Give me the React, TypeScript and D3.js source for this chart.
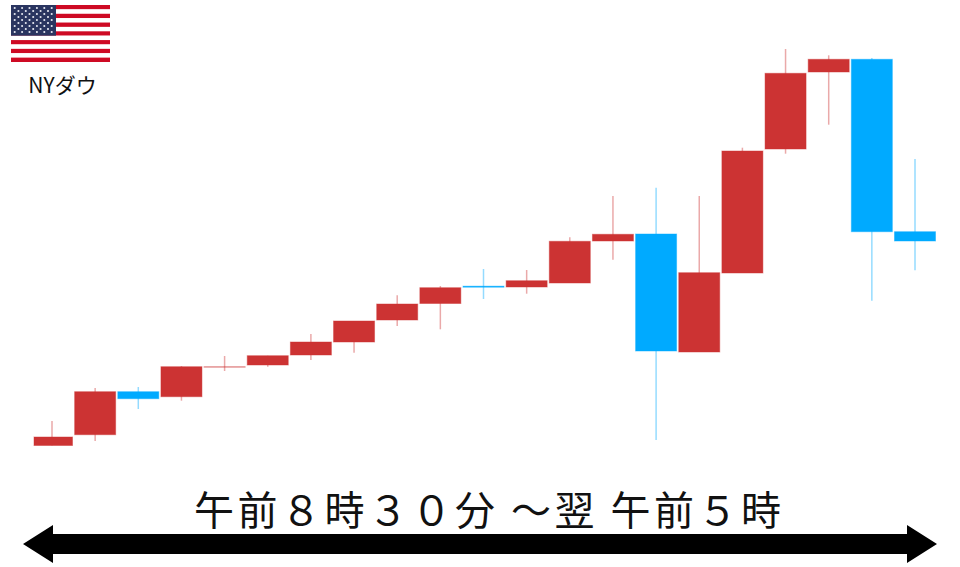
import React from "react";
import * as d3 from "d3";

const W = 960, H = 567;
const opens = [121.5, 132.3, 175.3, 170.3, 200, 202, 212, 225, 247, 263.5, 280.8, 280, 284, 326, 333, 215, 294, 418, 495, 507.7, 335.3];
const closes = [130, 175.3, 168.3, 200.3, 200.3, 211.3, 225, 246, 263, 279.3, 279.8, 286.3, 325.7, 332.7, 216, 294.3, 416, 493.7, 507.7, 335.3, 326];
const highs = [146, 179, 180, 201, 211, 211.3, 233, 246, 271.7, 281, 298, 297, 329.7, 371, 379.3, 371, 419.3, 518, 511.7, 509, 408];
const lows = [121.5, 126, 158, 166.3, 196, 200.3, 207, 214.3, 241, 237.7, 268, 273.3, 284, 307.3, 127, 215, 294, 413.3, 442.3, 266.3, 296.7];
const flagStripes = d3.range(13);
const starRows = d3.range(9);
const headline = "午前８時３０分 ～翌 午前５時";
const indexLabel = "NYダウ";

const y = d3.scaleLinear().domain([0, H]).range([H, 0]);
const x = d3.scaleLinear().domain([0, 20]).range([52, 915]);
const bodyW = 41;
const RED = "#CC3333", BLUE = "#00AAFF";
const JP = "'Noto Sans CJK JP', 'Noto Sans', sans-serif";

function Flag() {
  const fx = 11, fy = 5, fw = 99, fh = 57;
  const sy = d3.scaleBand<number>().domain(flagStripes).range([fy, fy + fh]);
  const cantonW = 45, cantonH = sy.step() * 7;
  return (
    <g>
      {flagStripes.map((s) => (
        <rect key={s} x={fx} y={sy(s)} width={fw} height={sy.step()} fill={s % 2 ? "#FFFFFF" : "#CE0A24"} />
      ))}
      <rect x={fx} y={fy} width={cantonW} height={cantonH} fill="#2A3560" />
      {starRows.flatMap((r) =>
        d3.range(r % 2 ? 5 : 6).map((c) => (
          <circle
            key={`${r}-${c}`}
            cx={fx + 3.7 + c * 7.4 + (r % 2 ? 3.7 : 0)}
            cy={fy + 3 + r * 3}
            r={1.05}
            fill="#E8EAF2"
          />
        ))
      )}
    </g>
  );
}

export default function App() {
  return (
    <svg
      width={W}
      height={H}
      viewBox={`0 0 ${W} ${H}`}
      style={{ position: "absolute", left: 0, top: 0, background: "#fff" }}
    >
      <Flag />
      <text x={62.5} y={93} textAnchor="middle" fontFamily={JP} fontSize={21} fontWeight={400} fill="#111">
        {indexLabel}
      </text>
      {opens.map((o, i) => {
        const c = closes[i];
        const col = c >= o ? RED : BLUE;
        const top = Math.min(y(o), y(c));
        const h = Math.abs(y(o) - y(c));
        const thin = h < 0.4;
        const inset = i === 0 ? 2.5 : 0;
        return (
          <g key={i}>
            <line x1={x(i)} x2={x(i)} y1={y(highs[i])} y2={y(lows[i])} stroke={col} strokeOpacity={0.42} strokeWidth={1.5} />
            <rect
              x={x(i) - bodyW / 2 + inset}
              y={top}
              width={bodyW - inset}
              height={Math.max(h, 0.5)}
              fill={col}
              fillOpacity={thin ? 0.4 : 1}
              stroke={col}
              strokeOpacity={0.45}
              strokeWidth={1}
            />
          </g>
        );
      })}
      <text x={194} y={525} textAnchor="start" fontFamily={JP} fontSize={40} fontWeight={400} letterSpacing={3.5} fill="#111">
        {headline}
      </text>
      <path
        d={d3.line()([
          [23, 544],
          [53, 525],
          [53, 534],
          [907, 534],
          [907, 525],
          [937, 544],
          [907, 563],
          [907, 554],
          [53, 554],
          [53, 563],
        ]) + "Z"}
        fill="#000"
      />
    </svg>
  );
}
